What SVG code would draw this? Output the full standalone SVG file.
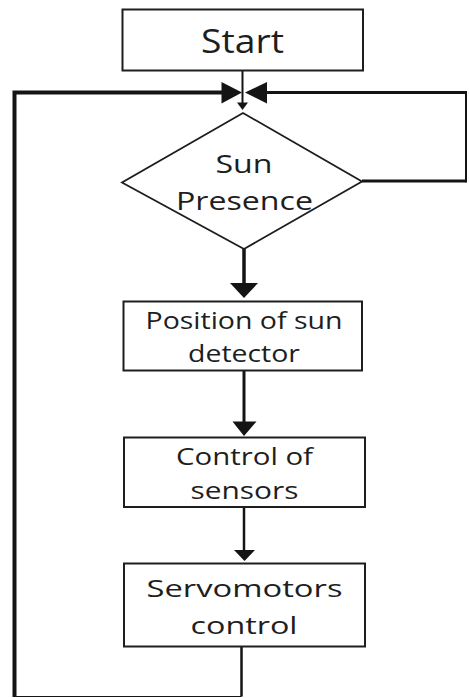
<svg xmlns="http://www.w3.org/2000/svg" width="469" height="698" viewBox="0 0 469 698">
<style>
.box{fill:#fff;stroke:#1e1e1e;stroke-width:2}
.dia{fill:#fff;stroke:#1e1e1e;stroke-width:1.8}
.t{font-family:"Open Sans","Noto Sans","Liberation Sans",sans-serif;fill:#1e1e1e;text-anchor:middle}
.ln{fill:none;stroke:#141414;stroke-linejoin:miter}
.ah{fill:#141414;stroke:none}
</style>
<rect width="469" height="698" fill="#fff"/>
<g id="connectors">
<path class="ln" d="M242.5 71 V104" stroke-width="2"/>
<polygon class="ah" points="237,102.5 248,102.5 242.5,110"/>
<path class="ln" d="M241.5 646 V696.5" stroke-width="2.5"/>
<path class="ln" d="M241.5 696.5 H14.5" stroke-width="1.2" stroke="#777"/>
<path class="ln" d="M14.5 697 V92.5 H224" stroke-width="4"/>
<path class="ln" d="M14.5 92.5 H224" stroke-width="3"/>
<polygon class="ah" points="221.5,82 221.5,103.5 242,92.5"/>
<path class="ln" d="M362 181 H466" stroke-width="3"/>
<path class="ln" d="M466 182.5 V92.5" stroke-width="2"/>
<path class="ln" d="M467 92.5 H265" stroke-width="3"/>
<polygon class="ah" points="267,82 267,103.5 245,92.5"/>
<path class="ln" d="M244 249 V285" stroke-width="3.5"/>
<polygon class="ah" points="230,283 258,283 244,298"/>
<path class="ln" d="M244 370 V424" stroke-width="3"/>
<polygon class="ah" points="232.5,421.5 256.5,421.5 244,436"/>
<path class="ln" d="M244 507 V552" stroke-width="2.5"/>
<polygon class="ah" points="234,550 255,550 244.5,561"/>
</g>
<g id="start">
<rect class="box" x="122.5" y="9.5" width="240.5" height="61"/>
<text class="t" x="242.5" y="52.5" font-size="32" textLength="83" lengthAdjust="spacingAndGlyphs">Start</text>
</g>
<g id="sun-presence">
<polygon class="dia" points="243,113 122,182.5 244,249 362,181.5"/>
<text class="t" x="244" y="172.5" font-size="25" textLength="57" lengthAdjust="spacingAndGlyphs">Sun</text>
<text class="t" x="244.5" y="210" font-size="25" textLength="137" lengthAdjust="spacingAndGlyphs">Presence</text>
</g>
<g id="position">
<rect class="box" x="123.5" y="301.5" width="238.5" height="69"/>
<text class="t" x="244" y="329" font-size="23" textLength="197" lengthAdjust="spacingAndGlyphs">Position of sun</text>
<text class="t" x="244" y="362" font-size="23" textLength="112" lengthAdjust="spacingAndGlyphs">detector</text>
</g>
<g id="control-sensors">
<rect class="box" x="124" y="437.5" width="241" height="69.5"/>
<text class="t" x="244.5" y="464.5" font-size="23" textLength="137" lengthAdjust="spacingAndGlyphs">Control of</text>
<text class="t" x="244.5" y="498.5" font-size="23" textLength="108" lengthAdjust="spacingAndGlyphs">sensors</text>
</g>
<g id="servo">
<rect class="box" x="124" y="563.5" width="241" height="83"/>
<text class="t" x="244.5" y="596.5" font-size="24" textLength="196" lengthAdjust="spacingAndGlyphs">Servomotors</text>
<text class="t" x="244" y="633.5" font-size="24" textLength="107" lengthAdjust="spacingAndGlyphs">control</text>
</g>
</svg>
